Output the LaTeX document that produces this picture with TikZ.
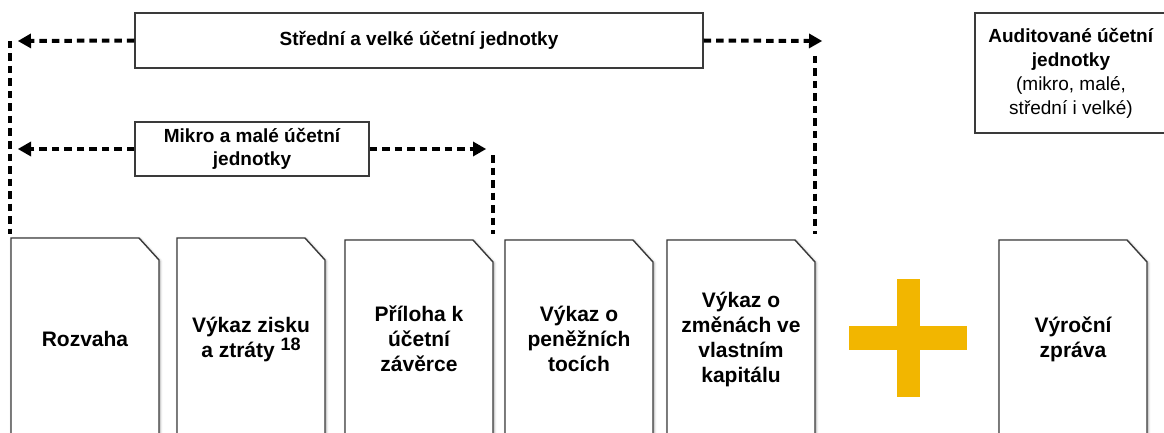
\documentclass[tikz,border=0pt]{standalone}
\usepackage{fontspec}
\setmainfont{Liberation Sans}
\usetikzlibrary{arrows.meta,shadows.blur}

\definecolor{plusyellow}{HTML}{F2B600}
\definecolor{edgegray}{HTML}{3A3A3A}

\tikzset{
  groupbox/.style={draw=edgegray, line width=1.3pt, fill=white, align=center,
    inner sep=0pt, font=\bfseries\fontsize{19}{23}\selectfont},
  flowline/.style={line width=4pt, dash pattern=on 7.5pt off 5pt},
  flow/.style={flowline, -{Triangle[length=13pt,width=15pt,line width=0pt]}},
  sheet/.style={draw=edgegray, line width=1.4pt, fill=white,
    blur shadow={shadow xshift=1pt, shadow yshift=-1pt,
      shadow blur radius=2.5pt, shadow opacity=35}},
  sheettext/.style={align=center, font=\bfseries\fontsize{21}{25}\selectfont},
}

% one statement sheet: name, left edge, top edge, label
\newcommand\sheetpage[4]{%
  \draw[sheet] (#2,445) -- (#2,#3) -- ({#2+128},#3) -- ({#2+148},{#3+22}) -- ({#2+148},445);
  \node[sheettext] (#1) at ({#2+74},339) {#4};
}
% footnote mark set beside a label
\newcommand\notemark[1]{\raisebox{7pt}{\fontsize{18}{18}\selectfont #1}}

\begin{document}
\begin{tikzpicture}[x=1pt, y=-1pt]
  \useasboundingbox (0,0) rectangle (1164,433);

  % group boxes
  \node[groupbox, minimum width=568pt, minimum height=55pt] (big) at (419,40.5)
    {Střední a velké účetní jednotky};
  \node[groupbox, minimum width=234pt, minimum height=54pt] (small) at (252,149)
    {Mikro a malé účetní\\jednotky};
  \node[draw=edgegray, line width=1.3pt, fill=white, align=center, inner sep=0pt,
        minimum width=192pt, minimum height=120pt,
        font=\fontsize{19}{24}\selectfont] (audit) at (1071,73)
    {\textbf{Auditované účetní}\\\textbf{jednotky}\\(mikro, malé,\\střední i velké)};

  % scope markers
  \coordinate (bigL) at (18,41);
  \coordinate (bigR) at (822,41);
  \coordinate (smallL) at (18,149);
  \coordinate (smallR) at (486,149);
  \coordinate (leftTop) at (10,41);
  \coordinate (leftEnd) at (10,234);
  \coordinate (bigDropTop) at (815,56);
  \coordinate (bigDropEnd) at (815,234);
  \coordinate (smallDropTop) at (493,155);
  \coordinate (smallDropEnd) at (493,234);

  \draw[flow] (big.west) -- (bigL);
  \draw[flow] (big.east) -- (bigR);
  \draw[flow] (small.west) -- (smallL);
  \draw[flow] (small.east) -- (smallR);
  \draw[flowline] (leftTop) -- (leftEnd);
  \draw[flowline] (bigDropTop) -- (bigDropEnd);
  \draw[flowline] (smallDropTop) -- (smallDropEnd);

  % statements
  \sheetpage{rozvaha}{11}{238}{Rozvaha}
  \sheetpage{vzz}{177}{238}{Výkaz zisku\\a ztráty \notemark{18}}
  \sheetpage{priloha}{345}{240}{Příloha k\\účetní\\závěrce}
  \sheetpage{cashflow}{505}{240}{Výkaz o\\peněžních\\tocích}
  \sheetpage{equity}{667}{240}{Výkaz o\\změnách ve\\vlastním\\kapitálu}
  \sheetpage{vyrocni}{999}{240}{Výroční\\zpráva}

  % plus sign
  \fill[plusyellow] (897,279) rectangle (920,397);
  \fill[plusyellow] (849,326) rectangle (967,350);
\end{tikzpicture}
\end{document}
